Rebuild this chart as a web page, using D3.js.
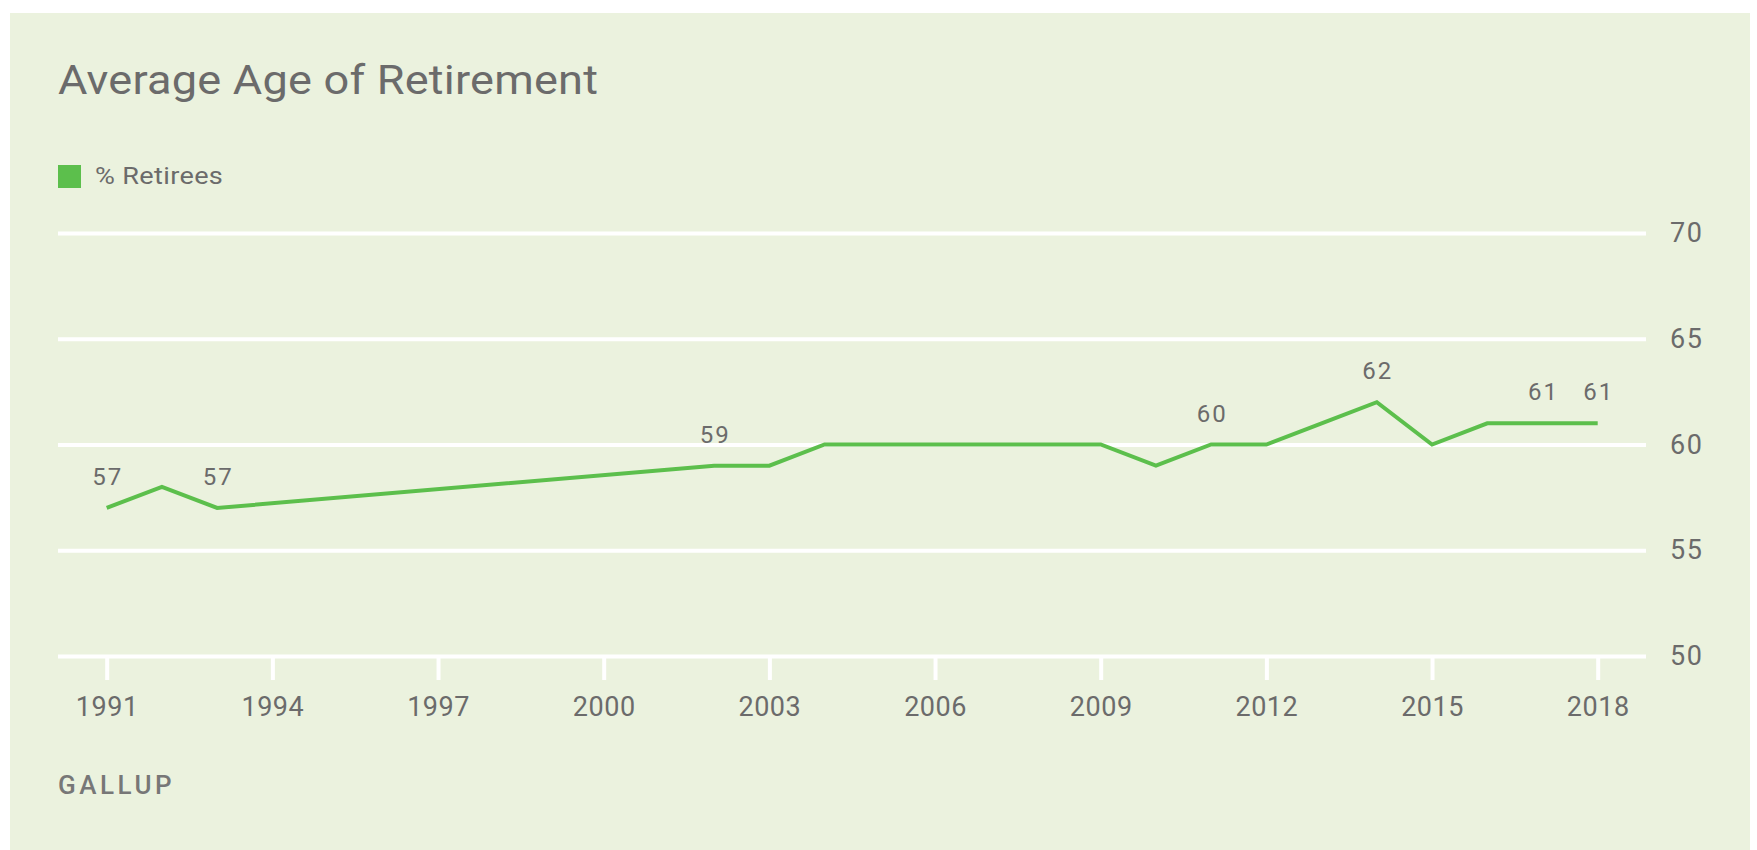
<!DOCTYPE html>
<html>
<head>
<meta charset="utf-8">
<script src="https://cdn.jsdelivr.net/npm/d3@7"></script>
<style>
  html, body { margin: 0; padding: 0; background: #ffffff; }
  svg { display: block; }
  text { font-family: Roboto, "Noto Sans", sans-serif; }
</style>
</head>
<body>
<svg id="chart" width="1757" height="850"></svg>
<script>
// ---- data ----
const years  = [1991, 1992, 1993, 2002, 2003, 2004, 2005, 2006, 2007, 2008, 2009, 2010, 2011, 2012, 2013, 2014, 2015, 2016, 2017, 2018];
const values = [57,   58,   57,   59,   59,   60,   60,   60,   60,   60,   60,   59,   60,   60,   61,   62,   60,   61,   61,   61];
const labelledYears = [1991, 1993, 2002, 2011, 2014, 2017, 2018];
const xTickYears = [1991, 1994, 1997, 2000, 2003, 2006, 2009, 2012, 2015, 2018];
const yTickValues = [50, 55, 60, 65, 70];
const titleText = "Average Age of Retirement";
const legendText = "% Retirees";
const sourceText = "GALLUP";

// ---- styles ----
const bg = "#ebf2de";
const green = "#5cbf4c";
const textGray = "#6b6b6b";

const svg = d3.select("#chart");

svg.append("rect")
  .attr("x", 10).attr("y", 13)
  .attr("width", 1740).attr("height", 837)
  .attr("fill", bg);

const gridLeft = 58, gridRight = 1646;
const x = d3.scaleLinear().domain([1991, 2018]).range([106.7, 1597.7]);
const y = d3.scaleLinear().domain([50, 70]).range([656, 233]);

// title
svg.append("text")
  .attr("transform", "translate(58,94) scale(1.1,1)")
  .attr("font-size", 41)
  .attr("letter-spacing", 0.2)
  .attr("fill", textGray)
  .text(titleText);

// legend
svg.append("rect")
  .attr("x", 58).attr("y", 165)
  .attr("width", 23).attr("height", 23)
  .attr("fill", green);
svg.append("text")
  .attr("transform", "translate(95,184) scale(1.13,1)")
  .attr("font-size", 24)
  .attr("letter-spacing", 0.3)
  .attr("fill", textGray)
  .text(legendText);

// y axis with gridlines
const yAxis = d3.axisRight(y)
  .tickValues(yTickValues)
  .tickSize(gridRight - gridLeft)
  .tickPadding(24)
  .tickFormat(d3.format("d"));
const gy = svg.append("g")
  .attr("transform", `translate(${gridLeft},0)`)
  .call(yAxis);
gy.select(".domain").remove();
gy.selectAll(".tick line").attr("stroke", "#ffffff").attr("stroke-width", 4);
gy.selectAll(".tick text")
  .attr("font-size", 27)
  .attr("letter-spacing", 1.5)
  .attr("fill", textGray)
  .attr("font-family", "Roboto, sans-serif");

// x axis ticks
const xAxis = d3.axisBottom(x)
  .tickValues(xTickYears)
  .tickSize(24)
  .tickPadding(17)
  .tickFormat(d3.format("d"));
const gx = svg.append("g")
  .attr("transform", `translate(0,${y(50)})`)
  .call(xAxis);
gx.select(".domain").remove();
gx.selectAll(".tick line").attr("stroke", "#ffffff").attr("stroke-width", 4);
gx.selectAll(".tick text")
  .attr("font-size", 27)
  .attr("letter-spacing", 0.5)
  .attr("fill", textGray)
  .attr("font-family", "Roboto, sans-serif");

// line
const data = years.map((yr, i) => ({ year: yr, value: values[i] }));
const line = d3.line().x(d => x(d.year)).y(d => y(d.value));
svg.append("path")
  .datum(data)
  .attr("d", line)
  .attr("fill", "none")
  .attr("stroke", green)
  .attr("stroke-width", 4)
  .attr("stroke-linejoin", "miter");

// data labels
svg.append("g")
  .selectAll("text")
  .data(data.filter(d => labelledYears.includes(d.year)))
  .join("text")
  .attr("x", d => x(d.year) + 1)
  .attr("y", d => y(d.value) - 23)
  .attr("text-anchor", "middle")
  .attr("font-size", 24)
  .attr("letter-spacing", 2)
  .attr("fill", textGray)
  .text(d => d.value);

// source
svg.append("text")
  .attr("x", 58).attr("y", 794)
  .attr("font-size", 26)
  .attr("font-weight", 500)
  .attr("letter-spacing", 3.5)
  .attr("fill", "#777777")
  .text(sourceText);
</script>
</body>
</html>
